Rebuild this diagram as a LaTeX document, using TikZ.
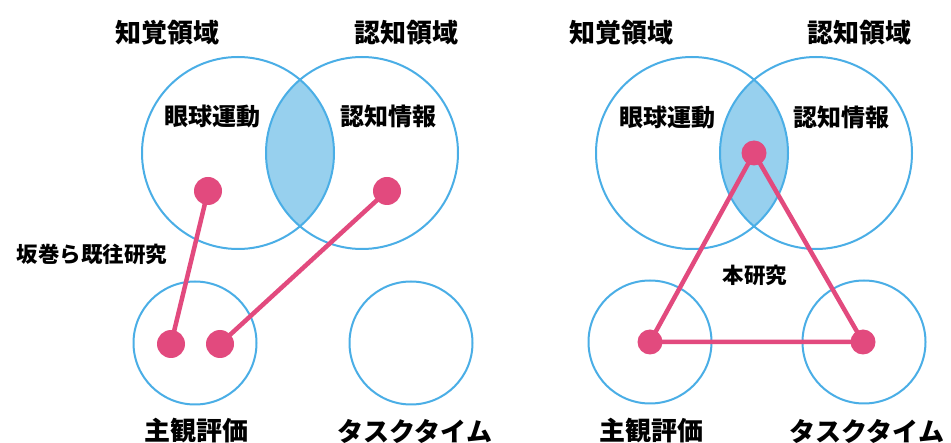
\documentclass[tikz,border=0pt]{standalone}
\usepackage{fontspec}
\newfontfamily\jp{Noto Sans CJK JP}
\definecolor{cblue}{HTML}{4AAEE6}
\definecolor{lensfill}{HTML}{97D0EE}
\definecolor{cpink}{HTML}{E24A7E}
\begin{document}
\begin{tikzpicture}[x=1pt,y=-1pt,
  ring/.style={circle,draw=cblue,line width=2pt,inner sep=0pt},
  bigring/.style={ring,minimum size=192pt},
  smallring/.style={ring,minimum size=123pt},
  dotA/.style={circle,fill=cpink,inner sep=0pt,minimum size=28pt},
  dotB/.style={circle,fill=cpink,inner sep=0pt,minimum size=25pt},
  link/.style={draw=cpink,line width=4.5pt},
  title/.style={font=\jp\bfseries\fontsize{26}{26}\selectfont,inner sep=0pt},
  inner/.style={font=\jp\bfseries\fontsize{24}{24}\selectfont,inner sep=0pt},
  note/.style={font=\jp\bfseries\fontsize{21.5}{21.5}\selectfont,inner sep=0pt},
  ]
\useasboundingbox (0,0) rectangle (951,443);
\fill[white] (0,0) rectangle (951,443);
% ---------- left panel ----------
\begin{scope}
  \clip (238,153) circle (96);
  \fill[lensfill] (362,153) circle (96);
\end{scope}
\node[bigring] (LP) at (238,153) {};
\node[bigring] (LC) at (362,153) {};
\node[smallring] (LS) at (195,343) {};
\node[smallring] (LT) at (411,343) {};
\node[title] (lt1) at (167,33) {知覚領域};
\node[title] (lt2) at (406,33) {認知領域};
\node[inner] (li1) at (212,116) {眼球運動};
\node[inner] (li2) at (388,116) {認知情報};
\node[note] (lnote) at (92,254) {坂巻ら既往研究};
\node[title] (lb1) at (196,431) {主観評価};
\node[title] (lb2) at (415,431) {タスクタイム};
\node[dotA] (ld1) at (208,191) {};
\node[dotA] (ld2) at (387,191) {};
\node[dotA] (ld3) at (171,344) {};
\node[dotA] (ld4) at (220,344) {};
\draw[link] (ld1.center) -- (ld3.center);
\draw[link] (ld2.center) -- (ld4.center);
% ---------- right panel ----------
\begin{scope}
  \clip (692,153) circle (96);
  \fill[lensfill] (816,153) circle (96);
\end{scope}
\node[bigring] (RP) at (692,153) {};
\node[bigring] (RC) at (816,153) {};
\node[smallring] (RS) at (650,342) {};
\node[smallring] (RT) at (864,342) {};
\node[title] (rt1) at (621,33) {知覚領域};
\node[title] (rt2) at (859,33) {認知領域};
\node[inner] (ri1) at (667,117) {眼球運動};
\node[inner] (ri2) at (841,117) {認知情報};
\node[note] (rnote) at (755,275) {本研究};
\node[title] (rb1) at (651,431) {主観評価};
\node[title] (rb2) at (867,431) {タスクタイム};
\node[dotB] (rd1) at (754,153) {};
\node[dotB] (rd2) at (650,342) {};
\node[dotB] (rd3) at (863,342) {};
\draw[link] (rd1.center) -- (rd2.center) -- (rd3.center) -- cycle;
\end{tikzpicture}
\end{document}
